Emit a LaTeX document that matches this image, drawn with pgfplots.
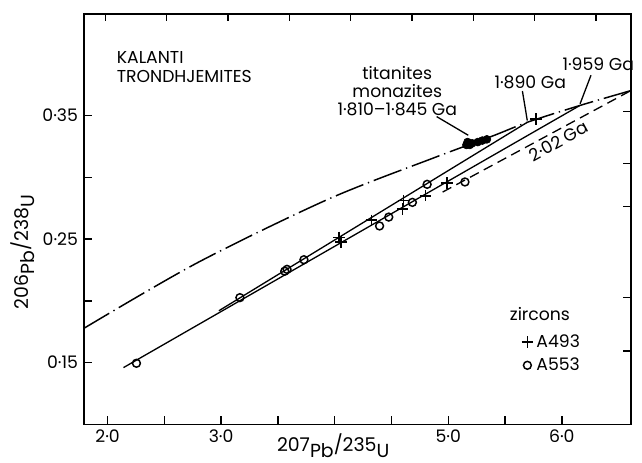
\documentclass[border=0pt]{standalone}
\usepackage{fontspec}
\setmainfont{Poppins}
\usepackage{pgfplots}
\pgfplotsset{compat=1.18}

% zircon A493 (crosses)
\pgfplotstableread{
x y
4.039 0.2513
4.056 0.2478
4.323 0.2652
4.597 0.2744
4.606 0.2811
4.800 0.2851
4.987 0.2955
5.774 0.3470
}\zirconA

% zircon A553 (circles)
\pgfplotstableread{
x y
2.254 0.1495
3.165 0.2026
3.560 0.2240
3.580 0.2255
3.729 0.2333
4.395 0.2606
4.476 0.2678
4.684 0.2797
4.814 0.2943
5.147 0.2962
}\zirconB

% titanites / monazites
\pgfplotstableread{
x y
5.16 0.3262
5.19 0.3262
5.17 0.3285
5.21 0.3275
5.26 0.3285
5.30 0.3297
5.34 0.3307
}\titan

% concordia as drawn
\pgfplotstableread{
x y
1.790 0.1777
2.790 0.2308
3.946 0.2824
4.872 0.3157
5.393 0.3335
5.696 0.3445
6.159 0.3581
6.607 0.3701
}\concordia

\begin{document}
\begin{tikzpicture}[font=\fontsize{10.5}{12}\selectfont]
\begin{axis}[
    scale only axis,
    width=333pt, height=250pt,
    xmin=1.79, xmax=6.607, ymin=0.10, ymax=0.4323,
    axis line style={line width=1pt},
    tick align=inside, tick pos=left,
    major tick length=5pt,
    tick style={line width=0.9pt, black},
    xtick={2,2.5,3,3.5,4,4.5,5,5.5,6},
    xticklabels={2·0,,3·0,,,,5·0,,6·0},
    ytick={0.15,0.2,0.25,0.3,0.35},
    yticklabels={0·15,,0·25,,0·35},
    xlabel={207\raisebox{-0.6ex}{Pb}/235\raisebox{-0.6ex}{U}},
    ylabel={206\raisebox{-0.6ex}{Pb}/238\raisebox{-0.6ex}{U}},
    label style={font=\fontsize{11.5}{13}\selectfont},
    xlabel style={at={(axis description cs:0.456,-0.051)}, anchor=center},
    ylabel style={at={(axis description cs:-0.112,0.42)}, anchor=center},
    clip=false,
    legend style={draw=none, fill=none, at={(axis cs:5.60,0.1785)}, anchor=north west,
        row sep=1pt, font=\fontsize{10.5}{12}\selectfont},
    legend cell align=left,
]
\addplot[black, line width=0.9pt, smooth,
    dash pattern=on 18pt off 3pt on 0.8pt off 3pt, forget plot] table {\concordia};
\addplot[black, line width=0.8pt, forget plot] coordinates {(2.14,0.146) (6.159,0.3581)};
\addplot[black, line width=0.8pt, forget plot] coordinates {(2.98,0.192) (5.696,0.3445)};
\addplot[black, line width=0.8pt, dash pattern=on 6pt off 3.5pt, forget plot]
    coordinates {(4.95,0.288) (6.607,0.3701)};

\addplot[only marks, mark=+, mark size=3.5pt, mark options={line width=1pt}] table {\zirconA};
\addlegendentry{A493}
\addplot[only marks, mark=o, mark size=2.4pt, mark options={line width=0.9pt, fill=white}] table {\zirconB};
\addlegendentry{A553}
\addplot[only marks, mark=*, mark size=2.4pt, forget plot] table {\titan};

\node[anchor=west, inner sep=0pt] at (axis cs:5.54,0.1896) {zircons};
\node[anchor=north west, align=left, inner sep=0pt, font=\fontsize{10.5}{11}\selectfont]
    at (axis cs:2.078,0.4017) {KALANTI\\TRONDHJEMITES};
\node[align=center, inner sep=0pt, font=\fontsize{10.5}{11}\selectfont]
    at (axis cs:4.551,0.3695) {titanites\\monazites\\1·810–1·845 Ga};
\draw[line width=0.8pt] (axis cs:4.898,0.3491) -- (axis cs:5.176,0.3340);
\node[inner sep=0pt] at (axis cs:5.722,0.3771) {1·890 Ga};
\draw[line width=0.8pt] (axis cs:5.653,0.3698) -- (axis cs:5.696,0.3459);
\node[inner sep=0pt] at (axis cs:6.321,0.3914) {1·959 Ga};
\draw[line width=0.8pt] (axis cs:6.257,0.3826) -- (axis cs:6.161,0.3595);
\node[inner sep=0pt, rotate=29] at (axis cs:5.974,0.3292) {2·02 Ga};
\end{axis}
\begin{axis}[
    scale only axis,
    width=333pt, height=250pt,
    xmin=1.79, xmax=6.607, ymin=0.10, ymax=0.4323,
    axis x line*=top, axis y line*=right,
    axis line style={line width=1pt},
    tick align=inside,
    major tick length=4.5pt,
    tick style={line width=0.9pt, black},
    xtick={1.98,2.52,3.06,3.60,4.14,4.68,5.22,5.76,6.30},
    ytick={0.1596,0.2028,0.2762,0.311,0.3534},
    xticklabels={}, yticklabels={},
]
\end{axis}
\path (current axis.south west) ++(-51pt,-20.6pt) rectangle ([shift={(1.2pt,8.4pt)}]current axis.north east);
\end{tikzpicture}
\end{document}
